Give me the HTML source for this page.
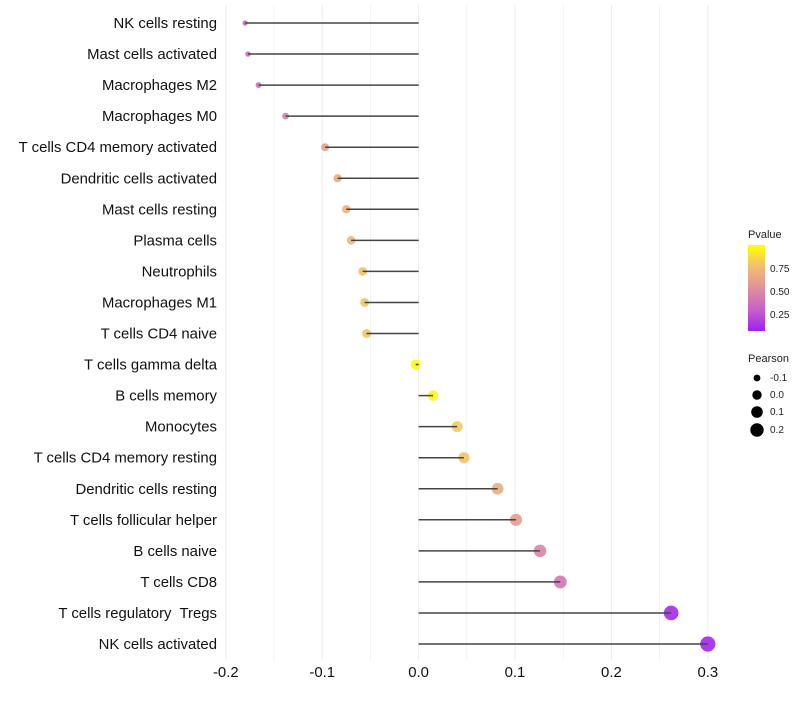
<!DOCTYPE html>
<html><head><meta charset="utf-8"><style>
body{margin:0;background:#fff;font-family:"Liberation Sans",sans-serif}
text{white-space:pre}
</style></head><body>
<svg id="chart" width="800" height="700" xmlns="http://www.w3.org/2000/svg">
<defs><linearGradient id="pg" x1="0" y1="1" x2="0" y2="0">
<stop offset="0" stop-color="#a020f0"/><stop offset="0.25" stop-color="#c860c8"/><stop offset="0.5" stop-color="#e0909a"/><stop offset="0.75" stop-color="#f0bf70"/><stop offset="1" stop-color="#ffff00"/></linearGradient></defs>
<g id="grid"></g><g id="points"></g><g id="marks"></g><g id="labels"></g>
<g font-size="10" fill="#222">
<text x="748" y="238" font-size="11">Pvalue</text>
<rect x="748" y="245" width="17" height="86" fill="url(#pg)"/>
<text x="770" y="272">0.75</text><text x="770" y="295">0.50</text><text x="770" y="318">0.25</text>
</g>
<g font-size="10" fill="#222">
<text x="748" y="362" font-size="11">Pearson</text>
<circle cx="757" cy="378" r="3.4" fill="#000"/><text x="770" y="381">-0.1</text>
<circle cx="757" cy="395" r="4.7" fill="#000"/><text x="770" y="398">0.0</text>
<circle cx="757" cy="412" r="5.8" fill="#000"/><text x="770" y="415">0.1</text>
<circle cx="757" cy="430" r="6.7" fill="#000"/><text x="770" y="433">0.2</text>
</g>
</svg>
<script>
const categories=["NK cells resting","Mast cells activated","Macrophages M2","Macrophages M0","T cells CD4 memory activated","Dendritic cells activated","Mast cells resting","Plasma cells","Neutrophils","Macrophages M1","T cells CD4 naive","T cells gamma delta","B cells memory","Monocytes","T cells CD4 memory resting","Dendritic cells resting","T cells follicular helper","B cells naive","T cells CD8","T cells regulatory  Tregs","NK cells activated"];
const pearson=[-0.180,-0.177,-0.166,-0.138,-0.097,-0.084,-0.075,-0.070,-0.058,-0.056,-0.054,-0.003,0.015,0.040,0.047,0.082,0.101,0.126,0.147,0.262,0.300];
const pvalue=[0.28,0.30,0.34,0.40,0.58,0.63,0.68,0.70,0.76,0.77,0.78,0.99,0.96,0.80,0.77,0.66,0.56,0.44,0.36,0.03,0.02];
const xTicks=[-0.2,-0.1,0.0,0.1,0.2,0.3];
const xTickLabels=["-0.2","-0.1","0.0","0.1","0.2","0.3"];
const NS="http://www.w3.org/2000/svg";
const x=v=>418.6+v*964;
const y=i=>23+i*31.05;
const rad=v=>Math.sqrt(Math.max(1,26+105*v));
const stops=[[160,32,240],[200,96,200],[224,144,154],[240,191,112],[255,255,0]];
function col(p){const s=Math.min(3.999,Math.max(0,p*4));const k=Math.floor(s),t=s-k;const c=stops[k].map((v,j)=>Math.round(v+(stops[k+1][j]-v)*t));return `rgb(${c})`;}
function mk(t,a,p){const e=document.createElementNS(NS,t);for(const k in a)e.setAttribute(k,a[k]);p.appendChild(e);return e;}
const grid=document.getElementById('grid'),marks=document.getElementById('marks'),labels=document.getElementById('labels'),points=document.getElementById('points');
for(let i=-4;i<=6;i++){const v=i*0.05;const g=mk('line',{x1:x(v),x2:x(v),y1:5,y2:660,stroke:'#ebebeb','stroke-width':Math.abs(i)%2?0.6:1},grid);

}
xTicks.forEach((v,i)=>{const t=mk('text',{x:x(v),y:677,'text-anchor':'middle','font-size':14.9,fill:'#111'},labels);t.textContent=xTickLabels[i];

});
categories.forEach((c,i)=>{const t=mk('text',{x:217,y:y(i)+5,'text-anchor':'end','font-size':14.9,fill:'#111'},labels);t.textContent=c;


const p=mk('circle',{cx:x(pearson[i]),cy:y(i),r:rad(pearson[i]),fill:col(pvalue[i]),'fill-opacity':0.9},points);


const l=mk('line',{x1:x(0),x2:x(pearson[i]),y1:y(i),y2:y(i),stroke:'#444','stroke-width':1.5},marks);

});
</script>
</body></html>
